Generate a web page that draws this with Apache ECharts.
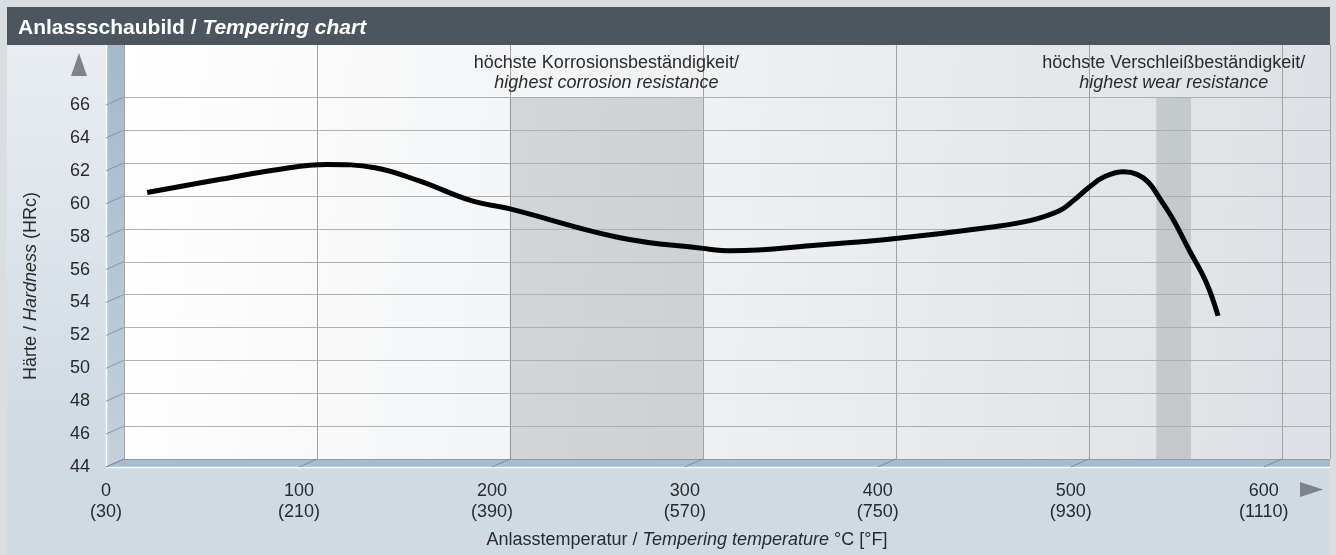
<!DOCTYPE html>
<html>
<head>
<meta charset="utf-8">
<script src="https://cdn.jsdelivr.net/npm/echarts@6/dist/echarts.min.js"></script>
<style>
    html, body {margin: 0; padding: 0; background: #dadee1;}
    #chart {width: 1336px; height: 555px;}
</style>
</head>
<body>
<div id="chart"></div>
<script>
// Anlasskurve: Temperatur in °C, Härte in HRc
const temp_c = [12, 50, 80, 105, 130, 153, 180, 200, 257, 300, 315, 360, 400, 450, 470, 485, 492, 500, 508, 518, 525, 531, 537, 544, 552, 561, 567];
const hardness = [60.2, 61.0, 61.6, 61.9, 61.7, 60.9, 59.7, 59.2, 57.45, 56.8, 56.65, 57.0, 57.4, 58.1, 58.5, 59.1, 59.7, 60.5, 61.15, 61.45, 61.3, 60.8, 59.8, 58.5, 56.7, 54.7, 52.7];

const x_ticks = [0, 100, 200, 300, 400, 500, 600];
const f_labels = ['(30)', '(210)', '(390)', '(570)', '(750)', '(930)', '(1110)'];
const y_ticks = [44, 46, 48, 50, 52, 54, 56, 58, 60, 62, 64, 66];

const corrosion_band = [200, 300];
const wear_band = [535, 553];

// Perspektive: Rückwand vs. Vorderkante
const X_MAX = 625;
const DX = -18, DY = 8;
const FONT = '"Liberation Sans", Arial, sans-serif';
const FS = 18;

function crisp(v) {
    return Math.round(v) + 0.5;
}

// horizontale Gitterlinien + Schrägen an der Seitenwand
function render_h_lines(params, api) {
    const v = api.value(0);
    const p0 = api.coord([0, v]);
    const p1 = api.coord([X_MAX, v]);
    const y = crisp(p0[1]);
    return {
        type: 'group', children: [
            {type: 'line', shape: {x1: p0[0], y1: y, x2: p1[0], y2: y},
                style: {stroke: v === 44 ? '#8e9aa6' : '#b0b0b0', lineWidth: 1}},
            {type: 'line', shape: {x1: p0[0], y1: p0[1], x2: p0[0] + DX, y2: p0[1] + DY},
                style: {stroke: '#8a96a2', lineWidth: 1}}
        ]
    };
}

// Schrägen am Boden
function render_floor_ticks(params, api) {
    const p = api.coord([api.value(0), 44]);
    return {type: 'line', shape: {x1: p[0], y1: p[1], x2: p[0] + DX, y2: p[1] + DY},
        style: {stroke: '#7f8b97', lineWidth: 1}};
}

function band_label(de, en) {
    return {
        show: true, position: 'top', distance: 4,
        formatter: '{a|' + de + '}\n{b|' + en + '}',
        rich: {
            a: {fontFamily: FONT, fontSize: FS, color: '#2b2b2b', lineHeight: 20},
            b: {fontFamily: FONT, fontSize: FS, color: '#2b2b2b', lineHeight: 20, fontStyle: 'italic'}
        }
    };
}

const chart = echarts.init(document.getElementById('chart'), null, {renderer: 'canvas'});

const option = {
    animation: false,
    backgroundColor: '#dadee1',
    title: {
        text: 'Anlassschaubild / {i|Tempering chart}',
        left: 13, top: 13,
        textStyle: {
            fontFamily: FONT, fontSize: 21, fontWeight: 'bold', color: '#fff',
            rich: {i: {fontFamily: FONT, fontSize: 21, fontWeight: 'bold', fontStyle: 'italic', color: '#fff'}}
        }
    },
    graphic: [
        {type: 'rect', z: -20, shape: {x: 7, y: 7, width: 1323, height: 548},
            style: {fill: new echarts.graphic.LinearGradient(0, 0, 0, 1, [
                {offset: 0, color: '#ebeff3'}, {offset: 0.8, color: '#d0dae3'}, {offset: 1, color: '#d0dae3'}])}},
        {type: 'rect', z: -20, shape: {x: 7, y: 7, width: 1323, height: 38}, style: {fill: '#4d565f'}},
        {type: 'rect', z: -20, shape: {x: 124, y: 45, width: 1206, height: 414},
            style: {fill: new echarts.graphic.LinearGradient(0, 0, 1, 0.3, [
                {offset: 0, color: '#ffffff'}, {offset: 1, color: '#dde1e5'}])}},
        {type: 'rect', z: -20, shape: {x: 106, y: 45, width: 18, height: 422},
            style: {fill: new echarts.graphic.LinearGradient(0, 0, 0, 1, [
                {offset: 0, color: '#a4b9cc'}, {offset: 1, color: '#c3d0dc'}])}},
        {type: 'polygon', z: -20, shape: {points: [[124, 459], [1330, 459], [1330, 467], [106, 467]]},
            style: {fill: '#a8bccf'}},
        {type: 'line', z: -19, shape: {x1: 106.5, y1: 45, x2: 106.5, y2: 467}, style: {stroke: '#fff', lineWidth: 1.5}},
        {type: 'line', z: -19, shape: {x1: 106, y1: 467.5, x2: 1330, y2: 467.5}, style: {stroke: '#fff', lineWidth: 1.5}},
        {type: 'polygon', shape: {points: [[71, 76], [87, 76], [79, 53]]}, style: {fill: '#7f8286'}},
        {type: 'polygon', shape: {points: [[1300, 482], [1300, 497], [1323, 489.5]]}, style: {fill: '#7f8286'}}
    ],
    grid: [
        {left: 124, top: 45, width: 1206, height: 414},
        {left: 106, top: 105, width: 1206, height: 362}
    ],
    xAxis: [
        {
            gridIndex: 0, type: 'value', min: 0, max: X_MAX, interval: 100,
            axisLine: {show: false}, axisTick: {show: false}, axisLabel: {show: false},
            splitLine: {show: true, lineStyle: {color: '#a2a2a2', width: 1}}
        },
        {
            gridIndex: 1, type: 'value', min: 0, max: X_MAX, interval: 100,
            axisLine: {show: false}, axisTick: {show: false}, splitLine: {show: false},
            axisLabel: {
                margin: 14, fontFamily: FONT, fontSize: FS, color: '#2b2b2b', lineHeight: 21,
                showMaxLabel: false,
                formatter: function (v) {
                    const i = x_ticks.indexOf(v);
                    return i < 0 ? '' : v + '\n' + f_labels[i];
                }
            },
            name: 'Anlasstemperatur / {i|Tempering temperature} °C [°F]',
            nameLocation: 'middle', nameGap: 64,
            nameTextStyle: {
                fontFamily: FONT, fontSize: FS, color: '#2b2b2b', padding: [0, 44, 0, 0],
                rich: {i: {fontFamily: FONT, fontSize: FS, color: '#2b2b2b', fontStyle: 'italic'}}
            }
        }
    ],
    yAxis: [
        {
            gridIndex: 0, type: 'value', min: 44, max: 44 + 414 * 22 / 362,
            axisLine: {show: false}, axisTick: {show: false}, axisLabel: {show: false},
            splitLine: {show: false}
        },
        {
            gridIndex: 1, type: 'value', min: 44, max: 66, interval: 2,
            axisLine: {show: false}, axisTick: {show: false}, splitLine: {show: false},
            axisLabel: {margin: 16, fontFamily: FONT, fontSize: FS, color: '#2b2b2b'},
            name: 'Härte / {i|Hardness} (HRc)',
            nameLocation: 'middle', nameGap: 66,
            nameTextStyle: {
                fontFamily: FONT, fontSize: FS, color: '#2b2b2b',
                rich: {i: {fontFamily: FONT, fontSize: FS, color: '#2b2b2b', fontStyle: 'italic'}}
            }
        }
    ],
    series: [
        {
            type: 'custom', xAxisIndex: 0, yAxisIndex: 0, z: 1, clip: false, silent: true,
            renderItem: render_h_lines,
            data: y_ticks.map(v => [v])
        },
        {
            type: 'custom', xAxisIndex: 0, yAxisIndex: 0, z: 1, clip: false, silent: true,
            renderItem: render_floor_ticks,
            data: x_ticks.map(v => [v])
        },
        {
            type: 'line', xAxisIndex: 0, yAxisIndex: 0, z: 3,
            data: temp_c.map((t, i) => [t, hardness[i]]),
            smooth: 0.4, symbol: 'none',
            lineStyle: {color: '#000', width: 5},
            markArea: {
                silent: true,
                itemStyle: {color: 'rgba(80,88,96,0.2)'},
                data: [
                    [{xAxis: corrosion_band[0], yAxis: 44, label: band_label('höchste Korrosionsbeständigkeit/', 'highest corrosion resistance')},
                        {xAxis: corrosion_band[1], yAxis: 66}],
                    [{xAxis: wear_band[0], yAxis: 44, label: band_label('höchste Verschleißbeständigkeit/', 'highest wear resistance')},
                        {xAxis: wear_band[1], yAxis: 66}]
                ]
            }
        }
    ]
};

chart.setOption(option);
window.addEventListener('resize', function () {
    chart.resize();
});
</script>
</body>
</html>
